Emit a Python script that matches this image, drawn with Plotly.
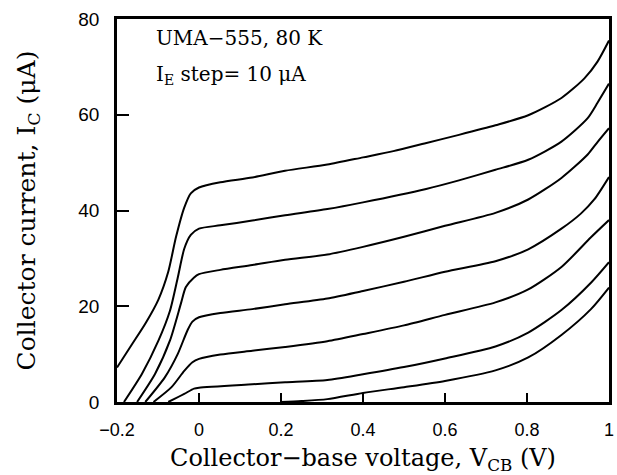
import plotly.graph_objects as go

# Collector current I_C (uA) vs collector-base voltage V_CB (V), one curve per emitter-current step
vcb_1 = [-0.2, -0.163, -0.13, -0.099, -0.075, -0.056, -0.036, -0.02, 0, 0.052, 0.13, 0.21, 0.313, 0.4, 0.474, 0.55, 0.634, 0.723, 0.803, 0.884, 0.94, 0.972, 1.0]
ic_1 = [7.2, 12.1, 16.5, 21.4, 27.2, 34.5, 40.6, 43.6, 44.8, 45.9, 46.9, 48.3, 49.6, 51.1, 52.4, 54.0, 55.8, 57.8, 59.9, 63.5, 67.6, 71.1, 75.5]

vcb_2 = [-0.183, -0.139, -0.099, -0.071, -0.052, -0.036, -0.02, 0, 0.052, 0.13, 0.21, 0.313, 0.4, 0.554, 0.634, 0.723, 0.803, 0.884, 0.948, 0.972, 1.0]
ic_2 = [0, 5.9, 12.8, 19.0, 25.9, 32.0, 34.9, 36.2, 36.9, 37.9, 39.0, 40.3, 41.7, 44.5, 46.3, 48.5, 50.6, 54.4, 59.3, 62.5, 66.5]

vcb_3 = [-0.151, -0.107, -0.071, -0.044, -0.032, -0.012, 0, 0.052, 0.13, 0.21, 0.313, 0.4, 0.5, 0.6, 0.723, 0.803, 0.884, 0.948, 0.972, 1.0]
ic_3 = [0, 5.9, 12.8, 20.6, 24.0, 26.0, 26.7, 27.6, 28.6, 29.7, 30.8, 32.4, 34.5, 36.8, 39.5, 42.3, 46.8, 51.7, 54.3, 57.2]

vcb_4 = [-0.131, -0.083, -0.052, -0.028, -0.016, 0, 0.052, 0.13, 0.21, 0.313, 0.4, 0.5, 0.6, 0.723, 0.803, 0.884, 0.932, 0.964, 1.0]
ic_4 = [0, 5.2, 10.0, 15.0, 16.8, 17.7, 18.6, 19.4, 20.4, 21.6, 23.2, 25.1, 27.2, 29.4, 31.9, 36.2, 39.4, 42.3, 47.0]

vcb_5 = [-0.111, -0.067, -0.036, -0.016, 0, 0.052, 0.13, 0.21, 0.313, 0.4, 0.5, 0.6, 0.723, 0.803, 0.884, 0.956, 1.0]
ic_5 = [0, 3.1, 6.5, 8.3, 9.0, 9.9, 10.7, 11.5, 12.7, 14.2, 16.0, 18.2, 20.8, 23.5, 28.2, 34.4, 38.0]

vcb_6 = [-0.075, -0.036, -0.012, 0, 0.13, 0.21, 0.313, 0.4, 0.5, 0.6, 0.723, 0.803, 0.884, 0.956, 1.0]
ic_6 = [0, 1.7, 2.8, 3.0, 3.7, 4.1, 4.6, 5.8, 7.3, 9.1, 11.6, 14.5, 19.2, 24.9, 29.2]

vcb_7 = [0.2, 0.25, 0.313, 0.4, 0.5, 0.6, 0.723, 0.803, 0.884, 0.956, 1.0]
ic_7 = [0, 0.2, 0.6, 1.9, 3.1, 4.4, 6.6, 9.3, 14.0, 19.4, 23.9]

curves = [(vcb_1, ic_1), (vcb_2, ic_2), (vcb_3, ic_3), (vcb_4, ic_4),
          (vcb_5, ic_5), (vcb_6, ic_6), (vcb_7, ic_7)]

x_ticks = [-0.2, 0, 0.2, 0.4, 0.6, 0.8, 1.0]
x_tick_labels = ["\u22120.2", "0", "0.2", "0.4", "0.6", "0.8", "1"]
y_ticks = [0, 20, 40, 60, 80]
y_tick_labels = ["0", "20", "40", "60", "80"]

fig = go.Figure()
for xs, ys in curves:
    fig.add_trace(go.Scatter(x=xs, y=ys, mode="lines",
                             line=dict(color="black", width=2, shape="spline", smoothing=0.7),
                             showlegend=False, hoverinfo="skip", cliponaxis=True))

serif = "DejaVu Serif, Liberation Serif, serif"
sans = "Liberation Sans, Arial, sans-serif"

fig.update_layout(
    width=617, height=475,
    margin=dict(l=117, r=3, t=19, b=73),
    paper_bgcolor="white", plot_bgcolor="white",
    xaxis=dict(range=[-0.2, 1.0], tickvals=x_ticks, ticktext=x_tick_labels,
               ticks="inside", ticklen=9, tickwidth=1.5, tickcolor="black",
               showline=True, linewidth=2.5, linecolor="black", mirror=True,
               showgrid=False, zeroline=False,
               tickfont=dict(family=sans, size=18, color="black"),
               ticklabelstandoff=10,
               title=dict(text="Collector\u2212base voltage, V<sub>CB</sub> (V)",
                          font=dict(family=serif, size=24, color="black"), standoff=10)),
    yaxis=dict(range=[0, 80], tickvals=y_ticks, ticktext=y_tick_labels,
               ticks="inside", ticklen=12, tickwidth=1.5, tickcolor="black",
               showline=True, linewidth=2.5, linecolor="black", mirror=True,
               showgrid=False, zeroline=False,
               tickfont=dict(family=sans, size=19, color="black"),
               ticklabelstandoff=11,
               title=dict(text="Collector current, I<sub>C</sub> (\u03bcA)",
                          font=dict(family=serif, size=25, color="black"), standoff=36)),
    annotations=[
        dict(text="UMA\u2212555, 80 K", xref="paper", yref="paper", x=0.076, y=0.95,
             xanchor="left", yanchor="middle", showarrow=False,
             font=dict(family=serif, size=20, color="black")),
        dict(text="I<sub>E</sub> step= 10 \u03bcA", xref="paper", yref="paper", x=0.076, y=0.854,
             xanchor="left", yanchor="middle", showarrow=False,
             font=dict(family=serif, size=20, color="black")),
    ],
)

fig.write_html("out.html", config={"displayModeBar": False},
               post_script="document.body.style.margin='0';")
